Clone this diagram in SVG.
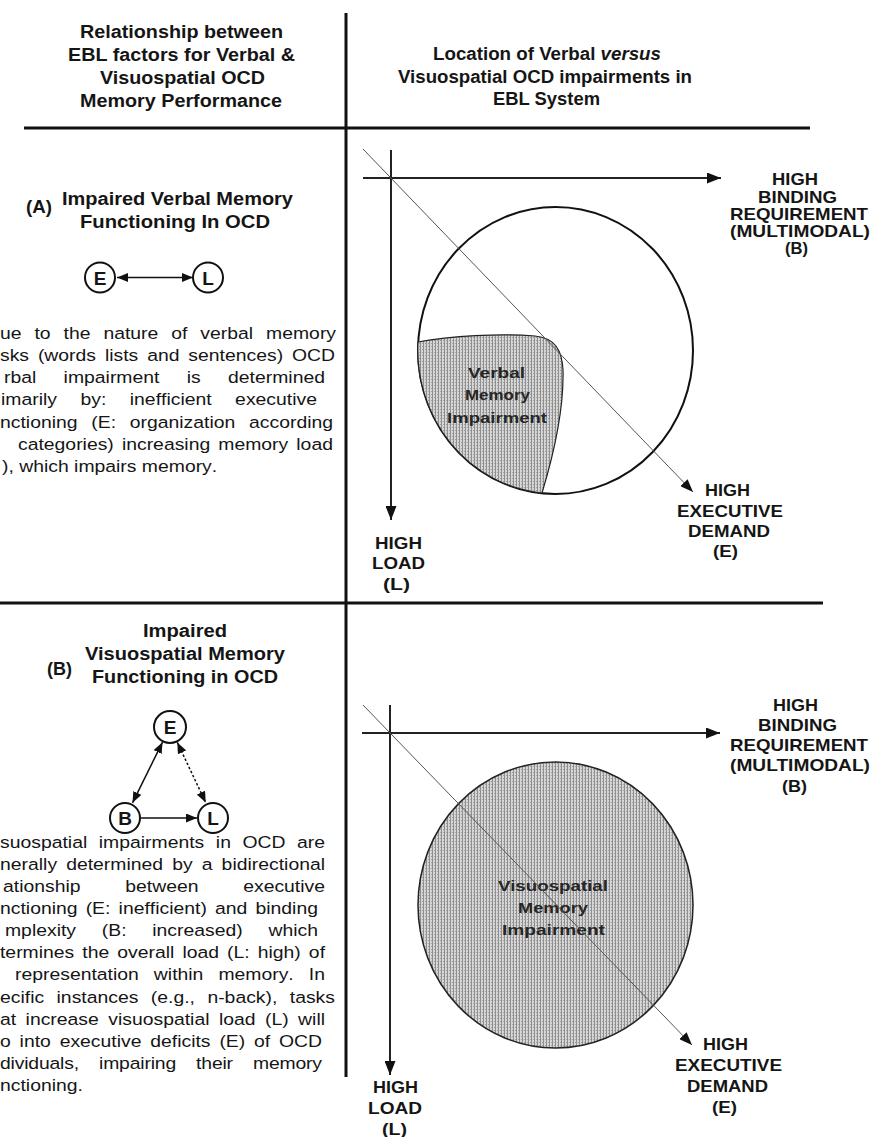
<svg xmlns="http://www.w3.org/2000/svg" width="895" height="1137" viewBox="0 0 895 1137">
<style>
  text { font-family: "Liberation Sans", Arial, Helvetica, sans-serif; fill: #151515; }
  .hd { font-size: 17.5px; font-weight: bold; }
  .lbl { font-size: 17px; font-weight: bold; }
  .inner { font-size: 15.5px; font-weight: bold; fill: #262626; }
  .node { font-size: 19px; font-weight: bold; text-anchor: middle; }
  .para { font-size: 16.7px; font-kerning: none; }
  .rule { stroke: #111; stroke-width: 3; fill: none; }
  .axis { stroke: #222; stroke-width: 2; fill: none; }
  .diag { stroke: #555; stroke-width: 1; fill: none; }
  .ring { fill: #fff; stroke: #111; stroke-width: 2; }
  .link { stroke: #111; stroke-width: 1.5; fill: none; }
</style>
<defs>
  <pattern id="stipple" width="3" height="3" patternUnits="userSpaceOnUse">
    <rect width="3" height="3" fill="#d6d6d6"/>
    <rect width="1" height="3" fill="#8f8f8f"/>
    <rect x="2" y="1" width="1" height="1" fill="#a0a0a0"/>
  </pattern>
  <marker id="axisHead" markerUnits="userSpaceOnUse" markerWidth="14" markerHeight="11" refX="14" refY="5.5" orient="auto">
    <path d="M0,0 L14,5.5 L0,11 z" fill="#111"/>
  </marker>
  <marker id="diagHead" markerUnits="userSpaceOnUse" markerWidth="13" markerHeight="10" refX="13" refY="5" orient="auto">
    <path d="M0,0 L13,5 L0,10 z" fill="#111"/>
  </marker>
  <marker id="nodeHead" markerUnits="userSpaceOnUse" markerWidth="11" markerHeight="9" refX="11" refY="4.5" orient="auto-start-reverse">
    <path d="M0,0 L11,4.5 L0,9 z" fill="#111"/>
  </marker>
</defs>

<rect width="895" height="1137" fill="#fff"/>

<!-- table rules -->
<g id="rules">
  <line class="rule" x1="346" y1="13" x2="346" y2="1077"/>
  <line class="rule" x1="24" y1="128" x2="810" y2="128" stroke-width="3.5"/>
  <line class="rule" x1="0" y1="603" x2="823" y2="603"/>
</g>

<!-- column headings -->
<g id="header-left">
  <text class="hd" x="80" y="38" textLength="203" lengthAdjust="spacingAndGlyphs">Relationship between</text>
  <text class="hd" x="68" y="61" textLength="227" lengthAdjust="spacingAndGlyphs">EBL factors for Verbal &amp;</text>
  <text class="hd" x="100" y="84" textLength="165" lengthAdjust="spacingAndGlyphs">Visuospatial OCD</text>
  <text class="hd" x="80" y="107" textLength="202" lengthAdjust="spacingAndGlyphs">Memory Performance</text>
</g>
<g id="header-right">
  <text class="hd" x="433" y="60" textLength="228" lengthAdjust="spacingAndGlyphs">Location of Verbal <tspan font-style="italic">versus</tspan></text>
  <text class="hd" x="398" y="83" textLength="294" lengthAdjust="spacingAndGlyphs">Visuospatial OCD impairments in</text>
  <text class="hd" x="493" y="105" textLength="107" lengthAdjust="spacingAndGlyphs">EBL System</text>
</g>

<!-- panel A: verbal memory -->
<g id="panel-a-title">
  <text class="hd" x="26" y="213" textLength="26" lengthAdjust="spacingAndGlyphs" font-size="16">(A)</text>
  <text class="hd" x="62" y="205" textLength="231" lengthAdjust="spacingAndGlyphs">Impaired Verbal Memory</text>
  <text class="hd" x="80" y="228" textLength="190" lengthAdjust="spacingAndGlyphs">Functioning In OCD</text>
</g>
<g id="node-a-E">
  <circle class="ring" cx="100" cy="277.5" r="15"/>
  <text class="node" x="100" y="284.5">E</text>
</g>
<g id="node-a-L">
  <circle class="ring" cx="208" cy="277.5" r="15"/>
  <text class="node" x="208" y="284.5">L</text>
</g>
<g id="panel-a-text" transform="scale(1.16,1)">
  <text class="para" x="0" y="339" style="word-spacing:6.5px" textLength="289.7" lengthAdjust="spacing">ue to the nature of verbal memory</text>
  <text class="para" x="0" y="361" style="word-spacing:3px" textLength="288.8" lengthAdjust="spacing">sks (words lists and sentences) OCD</text>
  <text class="para" x="3.45" y="383" style="word-spacing:18.9px" textLength="276.7" lengthAdjust="spacing">rbal impairment is determined</text>
  <text class="para" x="0.86" y="405" style="word-spacing:15.6px" textLength="272.4" lengthAdjust="spacing">imarily by: inefficient executive</text>
  <text class="para" x="0" y="428" style="word-spacing:7.2px" textLength="287.1" lengthAdjust="spacing">nctioning (E: organization according</text>
  <text class="para" x="15.52" y="450" style="word-spacing:2.35px" textLength="271.5" lengthAdjust="spacing">categories) increasing memory load</text>
  <text class="para" x="1.72" y="472">), which impairs memory.</text>
</g>

<!-- panel B: visuospatial memory -->
<g id="panel-b-title">
  <text class="hd" x="143" y="637" textLength="84" lengthAdjust="spacingAndGlyphs">Impaired</text>
  <text class="hd" x="85" y="660" textLength="200" lengthAdjust="spacingAndGlyphs">Visuospatial Memory</text>
  <text class="hd" x="92" y="683" textLength="186" lengthAdjust="spacingAndGlyphs">Functioning in OCD</text>
  <text class="hd" x="47" y="675" textLength="25" lengthAdjust="spacingAndGlyphs" font-size="16">(B)</text>
</g>
<g id="node-b-E">
  <circle class="ring" cx="170" cy="727" r="16"/>
  <text class="node" x="170" y="734">E</text>
</g>
<g id="node-b-B">
  <circle class="ring" cx="125" cy="818" r="15"/>
  <text class="node" x="125" y="825">B</text>
</g>
<g id="node-b-L">
  <circle class="ring" cx="213" cy="818" r="15"/>
  <text class="node" x="213" y="825">L</text>
</g>
<g id="panel-b-text" transform="scale(1.16,1)">
  <text class="para" x="0" y="848" style="word-spacing:5.3px" textLength="280.2" lengthAdjust="spacing">suospatial impairments in OCD are</text>
  <text class="para" x="0" y="870" style="word-spacing:3.2px" textLength="280.2" lengthAdjust="spacing">nerally determined by a bidirectional</text>
  <text class="para" x="2.59" y="892" style="word-spacing:33.9px" textLength="277.6" lengthAdjust="spacing">ationship between executive</text>
  <text class="para" x="0" y="914" style="word-spacing:2.4px" textLength="274.1" lengthAdjust="spacing">nctioning (E: inefficient) and binding</text>
  <text class="para" x="4.31" y="936" style="word-spacing:17.56px" textLength="269.8" lengthAdjust="spacing">mplexity (B: increased) which</text>
  <text class="para" x="0" y="958" style="word-spacing:2.3px" textLength="280.2" lengthAdjust="spacing">termines the overall load (L: high) of</text>
  <text class="para" x="12.93" y="980" style="word-spacing:8.34px" textLength="267.2" lengthAdjust="spacing">representation within memory. In</text>
  <text class="para" x="0" y="1003" style="word-spacing:6.07px" textLength="288.8" lengthAdjust="spacing">ecific instances (e.g., n-back), tasks</text>
  <text class="para" x="0" y="1025" style="word-spacing:3.5px" textLength="280.2" lengthAdjust="spacing">at increase visuospatial load (L) will</text>
  <text class="para" x="0" y="1047" style="word-spacing:2.96px" textLength="277.6" lengthAdjust="spacing">o into executive deficits (E) of OCD</text>
  <text class="para" x="0" y="1069" style="word-spacing:12.85px" textLength="277.6" lengthAdjust="spacing">dividuals, impairing their memory</text>
  <text class="para" x="0" y="1091">nctioning.</text>
</g>

<!-- EBL space, verbal -->
<g id="region-verbal">
  <ellipse class="ring" cx="555.5" cy="350.5" rx="137.5" ry="143.5"/>
  <path d="M418,342 C450,336 500,333 535,336 C555,338 562,350 563,370 C564,410 552,460 542,493 A137.5,143.5 0 0 1 418,342 Z" fill="url(#stipple)" stroke="#222" stroke-width="1.2"/>
  <text class="inner" x="468" y="378" textLength="57" lengthAdjust="spacingAndGlyphs">Verbal</text>
  <text class="inner" x="465" y="400" textLength="65" lengthAdjust="spacingAndGlyphs">Memory</text>
  <text class="inner" x="447" y="423" textLength="100" lengthAdjust="spacingAndGlyphs">Impairment</text>
</g>

<!-- EBL space, visuospatial -->
<g id="region-visuospatial">
  <ellipse cx="555.5" cy="905" rx="137.5" ry="143" fill="url(#stipple)" stroke="#222" stroke-width="1.5"/>
  <text class="inner" x="498" y="891" textLength="110" lengthAdjust="spacingAndGlyphs">Visuospatial</text>
  <text class="inner" x="518" y="913" textLength="70" lengthAdjust="spacingAndGlyphs">Memory</text>
  <text class="inner" x="502" y="935" textLength="103" lengthAdjust="spacingAndGlyphs">Impairment</text>
</g>

<!-- connectors and axes -->
<g id="connectors">
  <line class="link" x1="117" y1="277.5" x2="193" y2="277.5" marker-start="url(#nodeHead)" marker-end="url(#nodeHead)"/>
  <line class="link" x1="132.5" y1="802.8" x2="162.5" y2="742.2" stroke-width="2.5" marker-start="url(#nodeHead)" marker-end="url(#nodeHead)"/>
  <line class="link" x1="177.3" y1="742.4" x2="205.7" y2="802.6" stroke-width="2" stroke-dasharray="2.5 2" marker-start="url(#nodeHead)" marker-end="url(#nodeHead)"/>
  <line class="link" x1="141" y1="818" x2="197" y2="818" marker-end="url(#nodeHead)"/>

  <line class="axis" x1="363" y1="178" x2="721" y2="178" marker-end="url(#axisHead)"/>
  <line class="axis" x1="391" y1="150" x2="391" y2="520" marker-end="url(#axisHead)"/>
  <line class="diag" x1="363" y1="149" x2="693" y2="492" marker-end="url(#diagHead)"/>

  <line class="axis" x1="362" y1="733" x2="720" y2="733" marker-end="url(#axisHead)"/>
  <line class="axis" x1="390" y1="705" x2="390" y2="1075" marker-end="url(#axisHead)"/>
  <line class="diag" x1="363" y1="705" x2="692" y2="1045" marker-end="url(#diagHead)"/>
</g>

<!-- axis labels -->
<g id="label-binding-1">
  <text class="lbl" x="772" y="185" textLength="46" lengthAdjust="spacingAndGlyphs">HIGH</text>
  <text class="lbl" x="758" y="203" textLength="79" lengthAdjust="spacingAndGlyphs">BINDING</text>
  <text class="lbl" x="730" y="220" textLength="138" lengthAdjust="spacingAndGlyphs">REQUIREMENT</text>
  <text class="lbl" x="730" y="237" textLength="140" lengthAdjust="spacingAndGlyphs">(MULTIMODAL)</text>
  <text class="lbl" x="785" y="254" textLength="23" lengthAdjust="spacingAndGlyphs">(B)</text>
</g>
<g id="label-executive-1">
  <text class="lbl" x="705" y="496" textLength="45" lengthAdjust="spacingAndGlyphs">HIGH</text>
  <text class="lbl" x="677" y="517" textLength="106" lengthAdjust="spacingAndGlyphs">EXECUTIVE</text>
  <text class="lbl" x="688" y="537" textLength="82" lengthAdjust="spacingAndGlyphs">DEMAND</text>
  <text class="lbl" x="713" y="557" textLength="25" lengthAdjust="spacingAndGlyphs">(E)</text>
</g>
<g id="label-load-1">
  <text class="lbl" x="375" y="549" textLength="47" lengthAdjust="spacingAndGlyphs">HIGH</text>
  <text class="lbl" x="372" y="569" textLength="53" lengthAdjust="spacingAndGlyphs">LOAD</text>
  <text class="lbl" x="383" y="590" textLength="27" lengthAdjust="spacingAndGlyphs">(L)</text>
</g>
<g id="label-binding-2">
  <text class="lbl" x="773" y="711" textLength="45" lengthAdjust="spacingAndGlyphs">HIGH</text>
  <text class="lbl" x="758" y="731" textLength="79" lengthAdjust="spacingAndGlyphs">BINDING</text>
  <text class="lbl" x="730" y="751" textLength="138" lengthAdjust="spacingAndGlyphs">REQUIREMENT</text>
  <text class="lbl" x="730" y="771" textLength="140" lengthAdjust="spacingAndGlyphs">(MULTIMODAL)</text>
  <text class="lbl" x="782" y="792" textLength="25" lengthAdjust="spacingAndGlyphs">(B)</text>
</g>
<g id="label-executive-2">
  <text class="lbl" x="703" y="1050" textLength="45" lengthAdjust="spacingAndGlyphs">HIGH</text>
  <text class="lbl" x="675" y="1071" textLength="107" lengthAdjust="spacingAndGlyphs">EXECUTIVE</text>
  <text class="lbl" x="687" y="1092" textLength="81" lengthAdjust="spacingAndGlyphs">DEMAND</text>
  <text class="lbl" x="712" y="1113" textLength="25" lengthAdjust="spacingAndGlyphs">(E)</text>
</g>
<g id="label-load-2">
  <text class="lbl" x="373" y="1093" textLength="45" lengthAdjust="spacingAndGlyphs">HIGH</text>
  <text class="lbl" x="368" y="1114" textLength="54" lengthAdjust="spacingAndGlyphs">LOAD</text>
  <text class="lbl" x="382" y="1135" textLength="25" lengthAdjust="spacingAndGlyphs">(L)</text>
</g>
</svg>
